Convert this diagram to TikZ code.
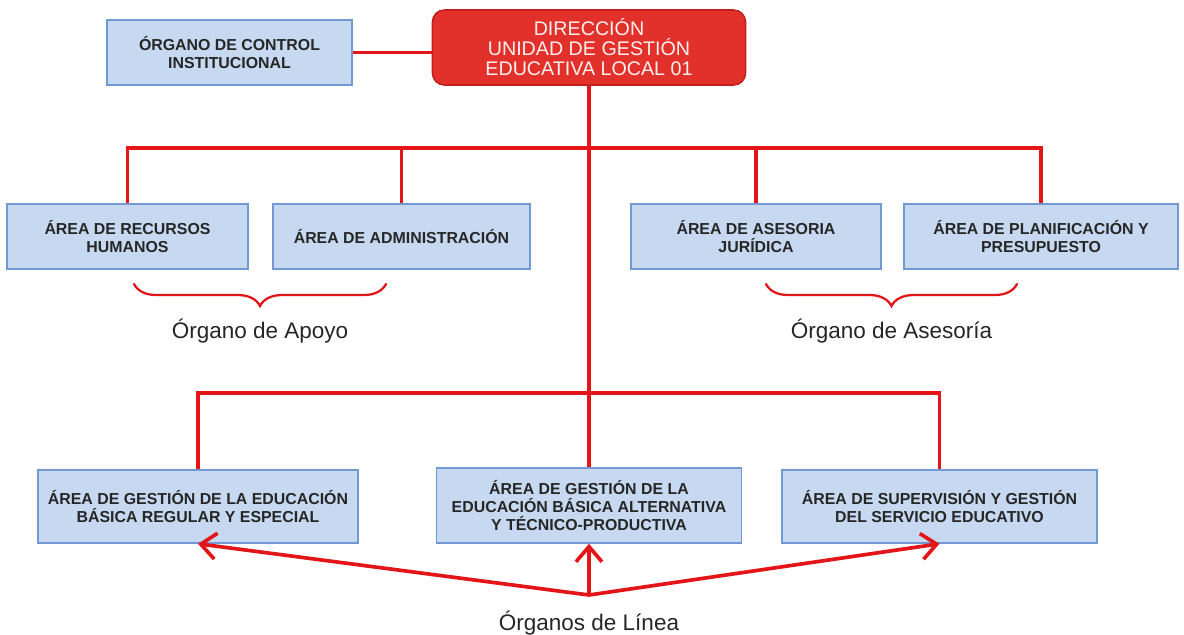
\documentclass[tikz,border=0pt]{standalone}
\usepackage{fontspec}
\setmainfont{Liberation Sans}
\usetikzlibrary{arrows.meta,decorations.pathreplacing}
\definecolor{boxfill}{HTML}{C6D9F1}
\definecolor{boxline}{HTML}{7299D4}
\definecolor{linered}{HTML}{E31519}
\definecolor{dirfill}{HTML}{E2302B}
\definecolor{dirline}{HTML}{C1201C}
\definecolor{dirtext}{HTML}{FFF0EE}
\definecolor{boxtext}{HTML}{262626}
\tikzset{
  areabox/.style={rectangle,draw=boxline,fill=boxfill,line width=1.1pt,
    align=center,text=boxtext,font=\fontsize{11.3}{13}\selectfont\bfseries,
    minimum height=1.625cm,inner sep=2pt},
  dirbox/.style={rectangle,rounded corners=0.3cm,draw=dirline,fill=dirfill,
    line width=1.1pt,align=center,text=dirtext,font=\fontsize{14}{14.2}\selectfont,
    minimum width=7.825cm,minimum height=1.875cm},
  grouplabel/.style={font=\fontsize{16}{16}\selectfont,text=black!85},
  redline/.style={draw=linered,line width=2.6pt},
  redarrow/.style={redline,-{Straight Barb[length=3.8mm,width=6.5mm]}},
  redbrace/.style={draw=linered,line width=1.6pt,line cap=round,
    decorate,decoration={brace,mirror,amplitude=0.55cm}}
}
\begin{document}
\begin{tikzpicture}[x=0.025cm,y=-0.025cm]
    \useasboundingbox (0,0) rectangle (1184,634);

    \node[dirbox] (dir) at (589,47.5) {DIRECCIÓN\\UNIDAD DE GESTIÓN\\EDUCATIVA LOCAL 01};
    \begin{scope}[every node/.style={areabox}]
        \node[minimum width=6.125cm] (oci) at (229.5,52.5) {ÓRGANO DE CONTROL\\INSTITUCIONAL};
        \node[minimum width=6.025cm] (rrhh) at (127.5,236.5) {ÁREA DE RECURSOS\\HUMANOS};
        \node[minimum width=6.425cm] (admin) at (401.5,236.5) {ÁREA DE ADMINISTRACIÓN};
        \node[minimum width=6.25cm] (jur) at (756,236.5) {ÁREA DE ASESORIA\\JURÍDICA};
        \node[minimum width=6.85cm] (plan) at (1041,236.5) {ÁREA DE PLANIFICACIÓN Y\\PRESUPUESTO};
        \node[minimum width=8cm,minimum height=1.825cm] (ebr) at (198,506.5) {ÁREA DE GESTIÓN DE LA EDUCACIÓN\\BÁSICA REGULAR Y ESPECIAL};
        \node[minimum width=7.625cm,minimum height=1.875cm] (eba) at (589,505.5) {ÁREA DE GESTIÓN DE LA\\EDUCACIÓN BÁSICA ALTERNATIVA\\Y TÉCNICO-PRODUCTIVA};
        \node[minimum width=7.875cm,minimum height=1.825cm] (sup) at (939.5,506.5) {ÁREA DE SUPERVISIÓN Y GESTIÓN\\DEL SERVICIO EDUCATIVO};
    \end{scope}

    \coordinate (bar1) at (589,148);
    \coordinate (bar2) at (589,393);
    \coordinate (linea) at (589,595);

    \begin{scope}[redline]
        \draw (oci.east) -- (oci.east -| dir.west);
        \draw (dir.south) -- (eba.north);
        \draw (rrhh.north) |- (bar1) -| (plan.north);
        \draw (admin.north) -- (admin.north |- bar1);
        \draw (jur.north) -- (jur.north |- bar1);
        \draw (ebr.north) |- (bar2) -| (sup.north);
    \end{scope}
    \draw[redarrow] (linea) -- (ebr.south);
    \draw[redarrow] (linea) -- (eba.south);
    \draw[redarrow] (linea) -- (sup.south);

    \draw[redbrace] (134,284) -- (386,284) node[midway,below=0.72cm,grouplabel] (apoyo) {Órgano de Apoyo};
    \draw[redbrace] (766,284) -- (1017,284) node[midway,below=0.72cm,grouplabel] (asesoria) {Órgano de Asesoría};
    \node[grouplabel] (lineas) at (589,623) {Órganos de Línea};
\end{tikzpicture}
\end{document}
